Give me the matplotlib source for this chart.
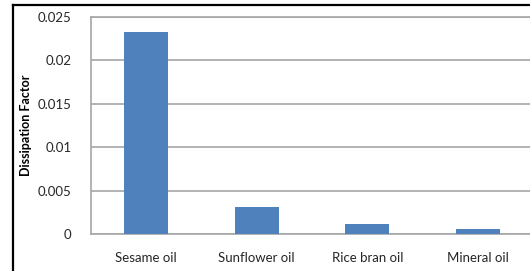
import matplotlib.pyplot as plt
from matplotlib.lines import Line2D

oils = ["Sesame oil", "Sunflower oil", "Rice bran oil", "Mineral oil"]
dissipation = [0.0233, 0.00315, 0.00115, 0.0006]
yticks = [0, 0.005, 0.01, 0.015, 0.02, 0.025]
ytick_labels = ["0", "0.005", "0.01", "0.015", "0.02", "0.025"]

plt.rcParams['font.family'] = ['Lato', 'DejaVu Sans']

fig = plt.figure(figsize=(5.30, 2.71), dpi=100)
ax = fig.add_axes([91 / 530, 1 - 234 / 271, 442 / 530, 217 / 271])

ax.bar(range(len(oils)), dissipation, width=0.4, color="#4F81BD", zorder=3)

ax.set_xlim(-0.5, len(oils) - 0.5)
ax.set_ylim(0, 0.025)
ax.set_yticks(yticks)
ax.set_yticklabels(ytick_labels)
ax.set_xticks(range(len(oils)))
ax.set_xticklabels(oils)

ax.grid(axis="y", color="#a6a6a6", linewidth=1.2, zorder=0)
for side in ["left", "top", "bottom"]:
    ax.spines[side].set_color("#a6a6a6")
    ax.spines[side].set_linewidth(1.2)
ax.spines["right"].set_visible(False)

ax.tick_params(axis="both", length=0, labelsize=9.5, colors="#262626")
ax.tick_params(axis="y", pad=14)
ax.tick_params(axis="x", pad=13)

ax.set_ylabel("Dissipation Factor", fontsize=9, fontweight="bold", labelpad=4, color="black")

# outer chart frame
fig.add_artist(Line2D([13 / 530, 13 / 530], [0, 1 - 5 / 271], transform=fig.transFigure, color="black", linewidth=1.6))
fig.add_artist(Line2D([13 / 530, 1], [1 - 5 / 271, 1 - 5 / 271], transform=fig.transFigure, color="black", linewidth=1.6))

fig.savefig("out.png", dpi=100)
